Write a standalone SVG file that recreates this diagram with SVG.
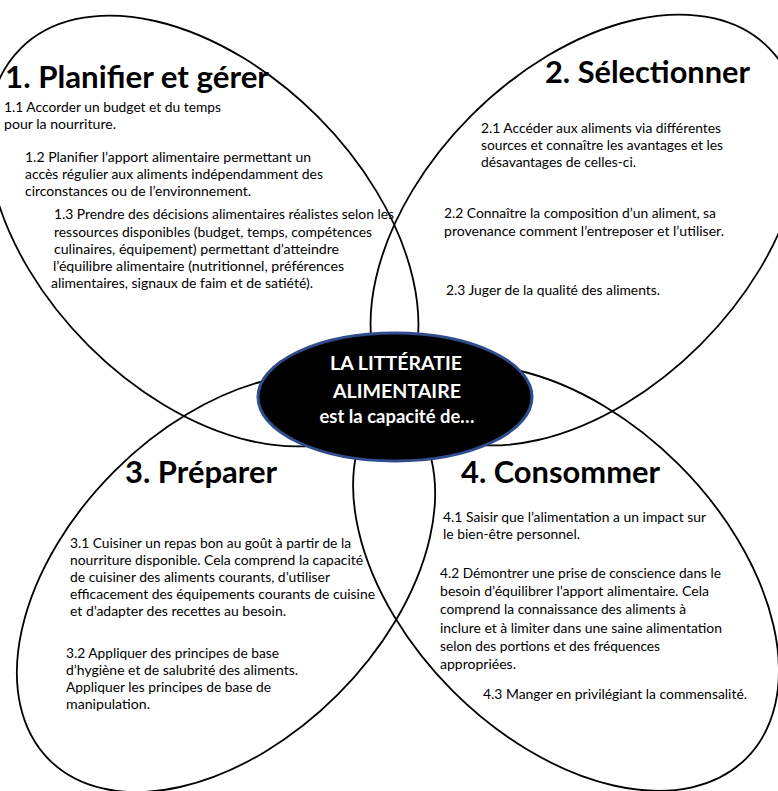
<svg xmlns="http://www.w3.org/2000/svg" width="778" height="791" viewBox="0 0 778 791">
  <style>
    .petal { fill: none; stroke: #000; stroke-width: 1.8; }
    .hub { fill: #000; stroke: #2f4c8c; stroke-width: 3; }
    .h { font-family: Lato, "Liberation Sans", sans-serif; font-weight: bold; font-size: 29.5px; fill: #000; }
    .t { font-family: Lato, "Liberation Sans", sans-serif; font-size: 13.1px; fill: #000; }
    .c { font-family: Lato, "Liberation Sans", sans-serif; font-weight: bold; font-size: 19.5px; fill: #fff; text-anchor: middle; }
  </style>
  <rect width="778" height="791" fill="#fff"/>

  <!-- no connectors: the petals overlap around the hub -->
  <g id="connectors"></g>

  <g id="petal-1">
    <ellipse class="petal" cx="203" cy="231" rx="258" ry="162" transform="rotate(45 203 231)"/>
    <text class="h" x="5" y="88" textLength="264" lengthAdjust="spacingAndGlyphs">1. Planifier et gérer</text>
    <text class="t" x="4" y="112" textLength="217" lengthAdjust="spacingAndGlyphs">1.1 Accorder un budget et du temps</text>
    <text class="t" x="4" y="129" textLength="112" lengthAdjust="spacingAndGlyphs">pour la nourriture.</text>
    <text class="t" x="25" y="162" textLength="286" lengthAdjust="spacingAndGlyphs">1.2 Planifier l’apport alimentaire permettant un</text>
    <text class="t" x="25" y="179" textLength="298" lengthAdjust="spacingAndGlyphs">accès régulier aux aliments indépendamment des</text>
    <text class="t" x="25" y="196" textLength="226" lengthAdjust="spacingAndGlyphs">circonstances ou de l’environnement.</text>
    <text class="t" x="54" y="219" textLength="340" lengthAdjust="spacingAndGlyphs">1.3 Prendre des décisions alimentaires réalistes selon les</text>
    <text class="t" x="54" y="237" textLength="318" lengthAdjust="spacingAndGlyphs">ressources disponibles (budget, temps, compétences</text>
    <text class="t" x="54" y="254" textLength="285" lengthAdjust="spacingAndGlyphs">culinaires, équipement) permettant d’atteindre</text>
    <text class="t" x="53" y="271" textLength="291" lengthAdjust="spacingAndGlyphs">l’équilibre alimentaire (nutritionnel, préférences</text>
    <text class="t" x="51" y="288" textLength="262" lengthAdjust="spacingAndGlyphs">alimentaires, signaux de faim et de satiété).</text>
  </g>

  <g id="petal-2">
    <ellipse class="petal" cx="586" cy="230" rx="258" ry="162" transform="rotate(-45 586 230)"/>
    <text class="h" x="545" y="83" textLength="205" lengthAdjust="spacingAndGlyphs">2. Sélectionner</text>
    <text class="t" x="481" y="133" textLength="240" lengthAdjust="spacingAndGlyphs">2.1 Accéder aux aliments via différentes</text>
    <text class="t" x="481" y="150" textLength="242" lengthAdjust="spacingAndGlyphs">sources et connaître les avantages et les</text>
    <text class="t" x="481" y="167" textLength="155" lengthAdjust="spacingAndGlyphs">désavantages de celles-ci.</text>
    <text class="t" x="444" y="218" textLength="272" lengthAdjust="spacingAndGlyphs">2.2 Connaître la composition d’un aliment, sa</text>
    <text class="t" x="444" y="236" textLength="280" lengthAdjust="spacingAndGlyphs">provenance comment l’entreposer et l’utiliser.</text>
    <text class="t" x="446" y="295" textLength="214" lengthAdjust="spacingAndGlyphs">2.3 Juger de la qualité des aliments.</text>
  </g>

  <g id="petal-3">
    <ellipse class="petal" cx="226" cy="583" rx="250" ry="158" transform="rotate(-45 226 583)"/>
    <text class="h" x="125" y="483" textLength="152" lengthAdjust="spacingAndGlyphs">3. Préparer</text>
    <text class="t" x="70" y="548" textLength="281" lengthAdjust="spacingAndGlyphs">3.1 Cuisiner un repas bon au goût à partir de la</text>
    <text class="t" x="70" y="565" textLength="293" lengthAdjust="spacingAndGlyphs">nourriture disponible. Cela comprend la capacité</text>
    <text class="t" x="70" y="582" textLength="260" lengthAdjust="spacingAndGlyphs">de cuisiner des aliments courants, d’utiliser</text>
    <text class="t" x="70" y="599" textLength="305" lengthAdjust="spacingAndGlyphs">efficacement des équipements courants de cuisine</text>
    <text class="t" x="70" y="616" textLength="216" lengthAdjust="spacingAndGlyphs">et d’adapter des recettes au besoin.</text>
    <text class="t" x="66" y="658" textLength="213" lengthAdjust="spacingAndGlyphs">3.2 Appliquer des principes de base</text>
    <text class="t" x="66" y="675" textLength="232" lengthAdjust="spacingAndGlyphs">d’hygiène et de salubrité des aliments.</text>
    <text class="t" x="66" y="692" textLength="205" lengthAdjust="spacingAndGlyphs">Appliquer les principes de base de</text>
    <text class="t" x="66" y="709" textLength="84" lengthAdjust="spacingAndGlyphs">manipulation.</text>
  </g>

  <g id="petal-4">
    <ellipse class="petal" cx="566" cy="578" rx="255" ry="160" transform="rotate(45 566 578)"/>
    <text class="h" x="461" y="483" textLength="199" lengthAdjust="spacingAndGlyphs">4. Consommer</text>
    <text class="t" x="443" y="522" textLength="263" lengthAdjust="spacingAndGlyphs">4.1 Saisir que l’alimentation a un impact sur</text>
    <text class="t" x="443" y="539" textLength="137" lengthAdjust="spacingAndGlyphs">le bien-être personnel.</text>
    <text class="t" x="440" y="578" textLength="281" lengthAdjust="spacingAndGlyphs">4.2 Démontrer une prise de conscience dans le</text>
    <text class="t" x="440" y="596" textLength="269" lengthAdjust="spacingAndGlyphs">besoin d’équilibrer l’apport alimentaire. Cela</text>
    <text class="t" x="440" y="614" textLength="246" lengthAdjust="spacingAndGlyphs">comprend la connaissance des aliments à</text>
    <text class="t" x="440" y="633" textLength="282" lengthAdjust="spacingAndGlyphs">inclure et à limiter dans une saine alimentation</text>
    <text class="t" x="440" y="651" textLength="220" lengthAdjust="spacingAndGlyphs">selon des portions et des fréquences</text>
    <text class="t" x="440" y="669" textLength="76" lengthAdjust="spacingAndGlyphs">appropriées.</text>
    <text class="t" x="483" y="699" textLength="264" lengthAdjust="spacingAndGlyphs">4.3 Manger en privilégiant la commensalité.</text>
  </g>

  <!-- central hub drawn over the petal tips -->
  <g id="hub">
    <ellipse class="hub" cx="395" cy="397" rx="137" ry="64"/>
    <text class="c" x="396" y="370" textLength="132" lengthAdjust="spacingAndGlyphs">LA LITTÉRATIE</text>
    <text class="c" x="397" y="398" textLength="128" lengthAdjust="spacingAndGlyphs">ALIMENTAIRE</text>
    <text class="c" x="397" y="423" textLength="155" lengthAdjust="spacingAndGlyphs">est la capacité de…</text>
  </g>
</svg>
